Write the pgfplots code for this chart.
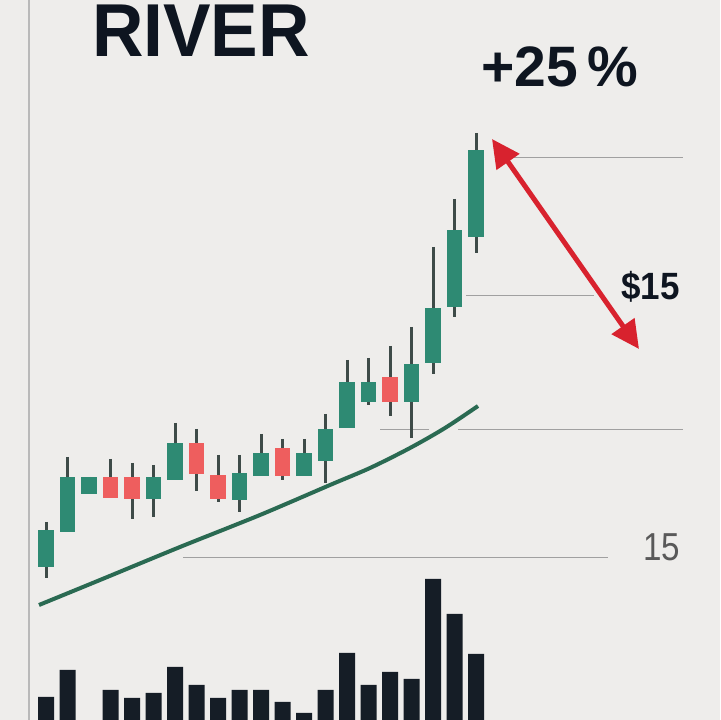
\documentclass[border=0pt]{standalone}
\usepackage{pgfplots}
\pgfplotsset{compat=1.18}
\usepackage{pgfplotstable}
\usepackage{fontspec}
\setmainfont{Liberation Sans}
\usetikzlibrary{arrows.meta}
\definecolor{bg}{HTML}{EEEDEB}
\definecolor{cgreen}{HTML}{2E8A73}
\definecolor{cred}{HTML}{EE5E5E}
\definecolor{wick}{HTML}{3E4B48}
\definecolor{ma}{HTML}{2A6A52}
\definecolor{vol}{HTML}{151D26}
\definecolor{gline}{HTML}{A0A0A0}
\definecolor{txt}{HTML}{0E1520}
\definecolor{arr}{HTML}{D8222E}

% candles: x, open, high, low, close  (chart units)
\pgfplotstableread{
x o h l c
46 153 198 142 190
67.5 188 263 188 243
89 226 243 226 243
153.5 221 255 203 243
175 240 297 240 277
239.5 220 265 208 247
261 244 286 244 267
304 244 281 244 267
325.5 259 306 237 291
347 292 360 292 338
368.5 318 362 315 338
411.5 318 393 282 356
433 357 473 346 412
454.5 413 521 403 490
476 483 587 467 570
}\greencandles
\pgfplotstableread{
x o h l c
110.5 243 261 222 222
132 243 257 201 221
196.5 277 291 229 246
218 245 265 218 221
282.5 272 281 240 244
390 343 374 304 318
}\redcandles
\pgfplotstableread{
x v
46 23
67.5 50
110.5 30
132 22
153.5 27
175 53
196.5 35
218 22
239.5 30
261 30
282.5 18
304 7
325.5 30
347 67
368.5 35
390 48
411.5 41
433 141
454.5 106
476 66
}\volume

\begin{document}
\begin{tikzpicture}
\begin{axis}[width=720bp, height=720bp, scale only axis,
  xmin=0, xmax=720, ymin=0, ymax=720,
  axis lines=none, ticks=none,
  axis background/.style={fill=bg}]

% left vertical rule
\addplot[draw=gray!55, line width=1.5bp, forget plot] coordinates {(29,0) (29,720)};
% horizontal guide lines
\addplot[draw=gline, line width=1bp, forget plot] coordinates {(510,562) (683,562)};
\addplot[draw=gline, line width=1bp, forget plot] coordinates {(466,424) (594,424)};
\addplot[draw=gline, line width=1bp, forget plot] coordinates {(380,290) (429,290)};
\addplot[draw=gline, line width=1bp, forget plot] coordinates {(458,290) (683,290)};
\addplot[draw=gline, line width=1bp, forget plot] coordinates {(183,162) (608,162)};

% volume bars
\addplot[ybar, bar width=16bp, fill=vol, draw=none, forget plot] table[x=x, y=v] {\volume};

% moving average
\addplot[ma, line width=4bp, smooth, forget plot] coordinates {
(39,115) (100,140) (180,173) (260,205) (330,235) (370,252) (410,272) (445,292) (478,314)};

% wicks
\addplot[draw=none, mark=none, forget plot,
  error bars/.cd, y dir=minus, y explicit, error mark=none,
  error bar style={draw=wick, line width=3bp}]
  table[x=x, y=h, y error minus expr={\thisrow{h}-\thisrow{l}}] {\greencandles};
\addplot[draw=none, mark=none, forget plot,
  error bars/.cd, y dir=minus, y explicit, error mark=none,
  error bar style={draw=wick, line width=3bp}]
  table[x=x, y=h, y error minus expr={\thisrow{h}-\thisrow{l}}] {\redcandles};
% bodies
\addplot[draw=none, mark=none, forget plot,
  error bars/.cd, y dir=both, y explicit, error mark=none,
  error bar style={draw=cgreen, line width=15.5bp, line cap=butt}]
  table[x=x, y expr={(\thisrow{o}+\thisrow{c})/2}, y error expr={abs(\thisrow{c}-\thisrow{o})/2}] {\greencandles};
\addplot[draw=none, mark=none, forget plot,
  error bars/.cd, y dir=both, y explicit, error mark=none,
  error bar style={draw=cred, line width=15.5bp, line cap=butt}]
  table[x=x, y expr={(\thisrow{o}+\thisrow{c})/2}, y error expr={abs(\thisrow{c}-\thisrow{o})/2}] {\redcandles};

% arrow
\draw[arr, line width=5bp, {Triangle[length=28bp,width=27bp]}-{Triangle[length=28bp,width=27bp]}]
  (axis cs:492,581) -- (axis cs:639,371);

% texts
\node[anchor=base west, inner sep=0pt, text=txt] at (axis cs:92,663)
  {\scalebox{0.95}[1]{\fontsize{75bp}{78bp}\selectfont\bfseries RIVER}};
\node[anchor=base west, inner sep=0pt, text=txt] at (axis cs:481,633)
  {\fontsize{57bp}{60bp}\selectfont\bfseries +25\,\%};
\node[anchor=base west, inner sep=0pt, text=txt] at (axis cs:621,420)
  {\scalebox{0.92}[1]{\fontsize{38bp}{40bp}\selectfont\bfseries \$15}};
\node[anchor=base west, inner sep=0pt, text=black!65] at (axis cs:643,159)
  {\scalebox{0.85}[1]{\fontsize{39bp}{40bp}\selectfont 15}};
\end{axis}
\end{tikzpicture}
\end{document}
